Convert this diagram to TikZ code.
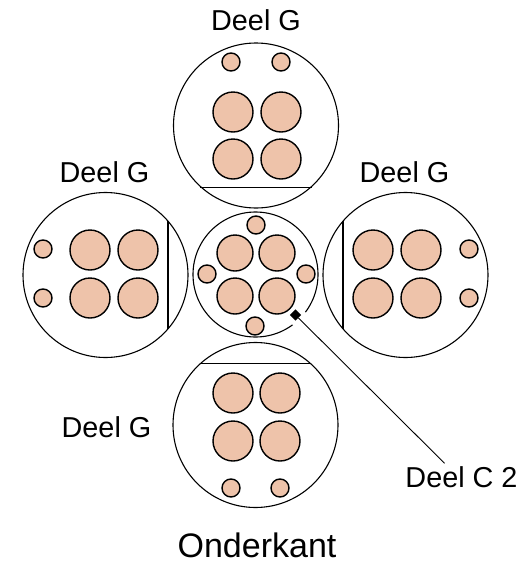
\documentclass[tikz,border=0pt]{standalone}
\usepackage{fontspec}
\setmainfont{Liberation Sans}
\usepackage{xcolor}
\definecolor{pinfill}{RGB}{238,195,170}
\begin{document}
\begin{tikzpicture}[
    x=1pt, y=-1pt,
    ring/.style={draw, circle, inner sep=0pt, line width=1.1pt, minimum size=165pt},
    hubring/.style={draw, circle, inner sep=0pt, line width=1.1pt, minimum size=125pt},
    bigpin/.style={draw, circle, inner sep=0pt, line width=1.4pt, fill=pinfill, minimum size=40pt},
    hubpin/.style={draw, circle, inner sep=0pt, line width=1.4pt, fill=pinfill, minimum size=36pt},
    smallpin/.style={draw, circle, inner sep=0pt, line width=1.4pt, fill=pinfill, minimum size=18pt},
    partlabel/.style={inner sep=0pt, minimum height=28pt, font=\fontsize{28.8}{30}\selectfont},
    flatedge/.style={draw, line width=1.4pt},
    leaderdot/.style={rectangle, rotate=45, inner sep=0pt, minimum size=8pt, fill=black, preaction={draw=white, line width=10pt}}
]
\useasboundingbox (0,0) rectangle (525,563);

% outer parts
\node[ring] (topring) at (256,125.5) {};
\node[ring] (leftring) at (105.5,275) {};
\node[ring] (rightring) at (405.5,275) {};
\node[ring] (bottomring) at (255.5,425) {};
\node[hubring] (hub) at (255.5,274.5) {};

\draw[flatedge] (topring.-132) -- (topring.-48);
\draw[flatedge] (leftring.41) -- (leftring.-41);
\draw[flatedge] (rightring.139) -- (rightring.-139);
\draw[flatedge] (bottomring.132) -- (bottomring.48);

\node[leaderdot] (hubdot) at (295.5,315) {};

% top
\node[smallpin] (topa) at (231,62) {};
\node[smallpin] (topb) at (281,62) {};
\node[bigpin] (topc) at (233,112) {};
\node[bigpin] (topd) at (281,112) {};
\node[bigpin] (tope) at (233,159) {};
\node[bigpin] (topf) at (281,159) {};

% left
\node[smallpin] (lefta) at (43,249) {};
\node[smallpin] (leftb) at (43,298) {};
\node[bigpin] (leftc) at (90,250) {};
\node[bigpin] (leftd) at (138,250) {};
\node[bigpin] (lefte) at (90,298) {};
\node[bigpin] (leftf) at (138,298) {};

% right
\node[bigpin] (rightc) at (373,250) {};
\node[bigpin] (rightd) at (421,250) {};
\node[bigpin] (righte) at (373,298) {};
\node[bigpin] (rightf) at (421,298) {};
\node[smallpin] (righta) at (469,249) {};
\node[smallpin] (rightb) at (469,298) {};

% bottom
\node[bigpin] (bottomc) at (233,393) {};
\node[bigpin] (bottomd) at (280,393) {};
\node[bigpin] (bottome) at (233,441) {};
\node[bigpin] (bottomf) at (280,441) {};
\node[smallpin] (bottoma) at (231,488) {};
\node[smallpin] (bottomb) at (280,488) {};

% centre
\node[hubpin] (huba) at (235,253) {};
\node[hubpin] (hubb) at (277,253) {};
\node[hubpin] (hubc) at (235,296) {};
\node[hubpin] (hubd) at (277,296) {};
\node[smallpin] (hubn) at (256,225) {};
\node[smallpin] (hubw) at (207,274) {};
\node[smallpin] (hube) at (306,274) {};
\node[smallpin] (hubs) at (255,326) {};

% labels
\node[partlabel] (toplabel) at (256,20) {Deel G};
\node[partlabel] (leftlabel) at (104.5,172) {Deel G};
\node[partlabel] (rightlabel) at (404.5,172) {Deel G};
\node[partlabel] (bottomlabel) at (106.5,427.5) {Deel G};
\node[partlabel] (hublabel) at (461.5,477.5) {Deel C 2};
\node[partlabel, font=\fontsize{34}{36}\selectfont] (viewlabel) at (257,545) {Onderkant};

\draw[line width=0.9pt] (hubdot) -- (hublabel.140);
\end{tikzpicture}
\end{document}
